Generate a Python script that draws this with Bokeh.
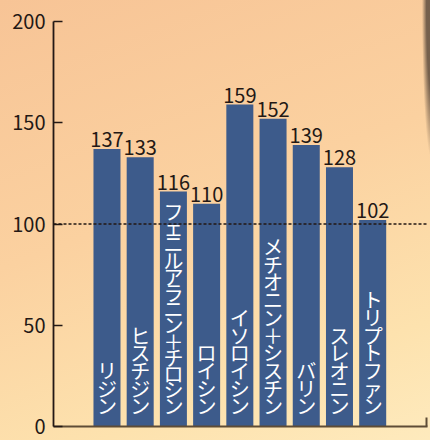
from bokeh.plotting import figure
from bokeh.models import ColumnDataSource, Range1d, FixedTicker, Span, GlobalInlineStyleSheet
from bokeh.core.properties import value
from bokeh.embed import file_html
from bokeh.resources import INLINE

# ---- data ----
names = ["リジン", "ヒスチジン", "フェニルアラニン＋チロシン", "ロイシン", "イソロイシン",
         "メチオニン＋シスチン", "バリン", "スレオニン", "トリプトファン"]
scores = [137, 133, 116, 110, 159, 152, 139, 128, 102]
y_ticks = [0, 50, 100, 150, 200]
reference_level = 100

FONT = "Noto Sans CJK JP"
INK = "#231815"
BAR = "#3d5b8b"

idx = list(range(len(names)))
src = ColumnDataSource(dict(x=idx, top=scores, label=[str(v) for v in scores]))

short_i = [i for i in idx if len(names[i]) <= 10]
long_i = [i for i in idx if len(names[i]) > 10]
src_short = ColumnDataSource(dict(x=short_i, y=[0] * len(short_i),
                                  t=["\n".join(names[i]) for i in short_i]))
src_long = ColumnDataSource(dict(x=long_i, y=[0] * len(long_i),
                                 t=["\n".join(names[i]) for i in long_i]))

x_start, x_end = -1.61, 9.65
p = figure(width=430, height=440, output_backend="svg", toolbar_location=None,
           x_range=Range1d(x_start, x_end), y_range=Range1d(0, 200),
           min_border_left=53, min_border_right=3, min_border_top=21, min_border_bottom=14)

p.background_fill_color = None
p.border_fill_color = None
p.outline_line_color = None
p.grid.visible = False
p.stylesheets = [GlobalInlineStyleSheet(css=(
    "html{min-height:100%;background:"
    "radial-gradient(ellipse 10px 150px at 432px 10px, rgba(110,90,72,0.95) 55%, rgba(110,90,72,0) 100%),"
    "linear-gradient(160deg,#f7c496 0%,#fbd1a0 45%,#fde2ae 80%,#feeabd 100%);}"
    "body{background:transparent;}"))]

p.vbar(x="x", top="top", width=0.813, bottom=0, source=src, fill_color=BAR, line_color=None)

p.text(x="x", y="top", text="label", source=src, text_align="center", text_baseline="bottom",
       y_offset=-2, text_font=value(FONT), text_font_size="20px", text_color=INK)

p.text(x="x", y="y", text="t", source=src_short, text_align="center", text_baseline="bottom",
       y_offset=-6, text_font=value(FONT), text_font_size="20px", text_color="white",
       text_line_height=0.611)
p.text(x="x", y="y", text="t", source=src_long, text_align="center", text_baseline="bottom",
       y_offset=-6, text_font=value(FONT), text_font_size="20px", text_color="white",
       text_line_height=0.559)

p.add_layout(Span(location=reference_level, dimension="width", line_color=INK, line_width=1.3,
                  line_dash="3 2", level="overlay"))

ya = p.yaxis[0]
ya.ticker = FixedTicker(ticks=y_ticks)
ya.minor_tick_line_color = None
ya.major_tick_in = 9
ya.major_tick_out = 0
ya.major_tick_line_color = INK
ya.major_tick_line_width = 1.5
ya.axis_line_color = INK
ya.axis_line_width = 1.8
ya.major_label_standoff = 8
ya.major_label_text_font = FONT
ya.major_label_text_font_size = "20px"
ya.major_label_text_color = INK

xa = p.xaxis[0]
xa.ticker = FixedTicker(ticks=[x_end - 0.02])
xa.minor_tick_line_color = None
xa.major_tick_in = 9
xa.major_tick_out = 0
xa.major_tick_line_color = "#5e4c36"
xa.major_tick_line_width = 2
xa.axis_line_color = "#5e4c36"
xa.axis_line_width = 2
xa.major_label_standoff = 0
xa.major_label_text_font_size = "1px"
xa.major_label_text_alpha = 0

open("out.html", "w").write(file_html(p, INLINE))
